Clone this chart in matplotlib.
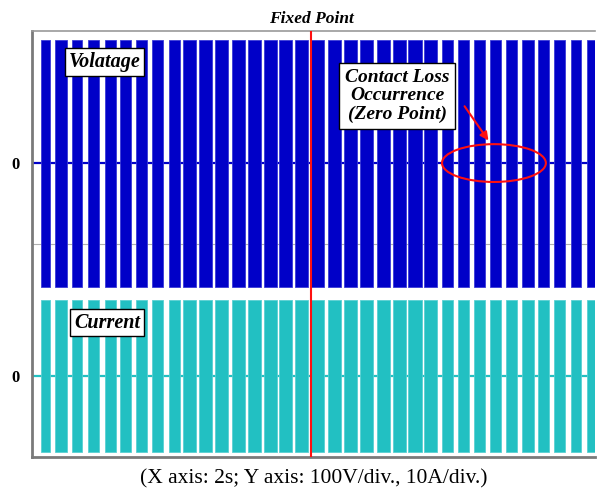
import numpy as np
import matplotlib.pyplot as plt
from matplotlib.patches import Ellipse

# burst on/off times (s) of the switching test, same for voltage and current
burst_on = [0.32, 0.83, 1.42, 1.99, 2.58, 3.14, 3.71, 4.28, 4.85, 5.38,
            5.93, 6.50, 7.09, 7.67, 8.24, 8.79, 9.34, 9.91, 10.50, 11.07,
            11.65, 12.24, 12.81, 13.37, 13.94, 14.55, 15.13, 15.70, 16.27, 16.84,
            17.41, 17.99, 18.56, 19.13, 19.70]
burst_off = [0.64, 1.23, 1.79, 2.38, 2.97, 3.52, 4.10, 4.67, 5.26, 5.83,
             6.39, 6.98, 7.57, 8.13, 8.69, 9.24, 9.82, 10.39, 10.96, 11.55,
             12.13, 12.70, 13.27, 13.84, 14.40, 14.96, 15.52, 16.09, 16.66, 17.23,
             17.82, 18.38, 18.95, 19.52, 20.00]
v_peak = 232.0   # V
i_peak = 14.2    # A
fixed_point = 9.91  # s

v_div, i_div = 100.0, 10.0   # V/div, A/div
v_off, i_off = 5.52, 1.52    # trace offsets in div

on = np.array(burst_on)
off = np.array(burst_off)

plt.rcParams['font.family'] = ['Liberation Serif', 'DejaVu Serif']
fig = plt.figure(figsize=(5.98, 4.92), dpi=100)
ax = fig.add_axes((32 / 598, 35 / 492, 563 / 598, 426 / 492))

ax.axhline(4, color='#b0b0b0', linewidth=0.8, zorder=0)

# voltage channel
ax.axhline(v_off, color='#0000c8', linewidth=1.6, zorder=1)
ax.bar(on, 2 * v_peak / v_div, width=off - on, bottom=v_off - v_peak / v_div,
       align='edge', color='#0000c8', edgecolor='#3a3ad8', linewidth=0.6, zorder=2)
# current channel
ax.axhline(i_off, color='#22c0c2', linewidth=1.6, zorder=1)
ax.bar(on, 2 * i_peak / i_div, width=off - on, bottom=i_off - i_peak / i_div,
       align='edge', color='#22c0c2', edgecolor='#5ad0d2', linewidth=0.6, zorder=2)

ax.axvline(fixed_point, color='#ff1010', linewidth=1.5, zorder=3)

ax.set_xlim(0, 20)
ax.set_ylim(0, 8)
ax.set_xticks([])
ax.set_yticks([v_off, i_off])
ax.set_yticklabels(['0', '0'], fontsize=12, fontweight='bold')
ax.tick_params(axis='y', length=0, pad=9)
for side in ['left', 'bottom']:
    ax.spines[side].set_color('#7a7a7a')
    ax.spines[side].set_linewidth(2)
ax.spines['top'].set_color('#9a9a9a')
ax.spines['top'].set_linewidth(1.2)
ax.spines['right'].set_visible(False)

box = dict(boxstyle='square,pad=0.18', facecolor='white', edgecolor='black', linewidth=1)
box_wide = dict(box, boxstyle='square,pad=0.3')
lbl = dict(fontweight='bold', fontstyle='italic', ha='center', va='center', zorder=5)
ax.text(2.59, 7.42, 'Volatage', bbox=box, fontsize=14.5, **lbl)
ax.text(2.66, 2.52, 'Current', bbox=box, fontsize=14.5, **lbl)
ax.text(12.97, 6.78, 'Contact Loss\nOccurrence\n(Zero Point)', bbox=box_wide,
        fontsize=14, linespacing=1.1, **lbl)

ax.add_patch(Ellipse((16.41, v_off), 3.69, 0.71, fill=False, edgecolor='#ff1010',
                     linewidth=1.5, zorder=4))
ax.annotate('', xy=(16.27, 5.90), xytext=(15.31, 6.63),
            arrowprops=dict(arrowstyle='-|>', color='#ff1010', lw=1.5, mutation_scale=12),
            zorder=4)

ax.set_title('Fixed Point', fontsize=12.5, fontweight='bold', fontstyle='italic',
             x=fixed_point / 20, pad=6)
ax.set_xlabel('(X axis: 2s; Y axis: 100V/div., 10A/div.)', fontsize=15.5, labelpad=9)

fig.savefig('out.png', dpi=100)
